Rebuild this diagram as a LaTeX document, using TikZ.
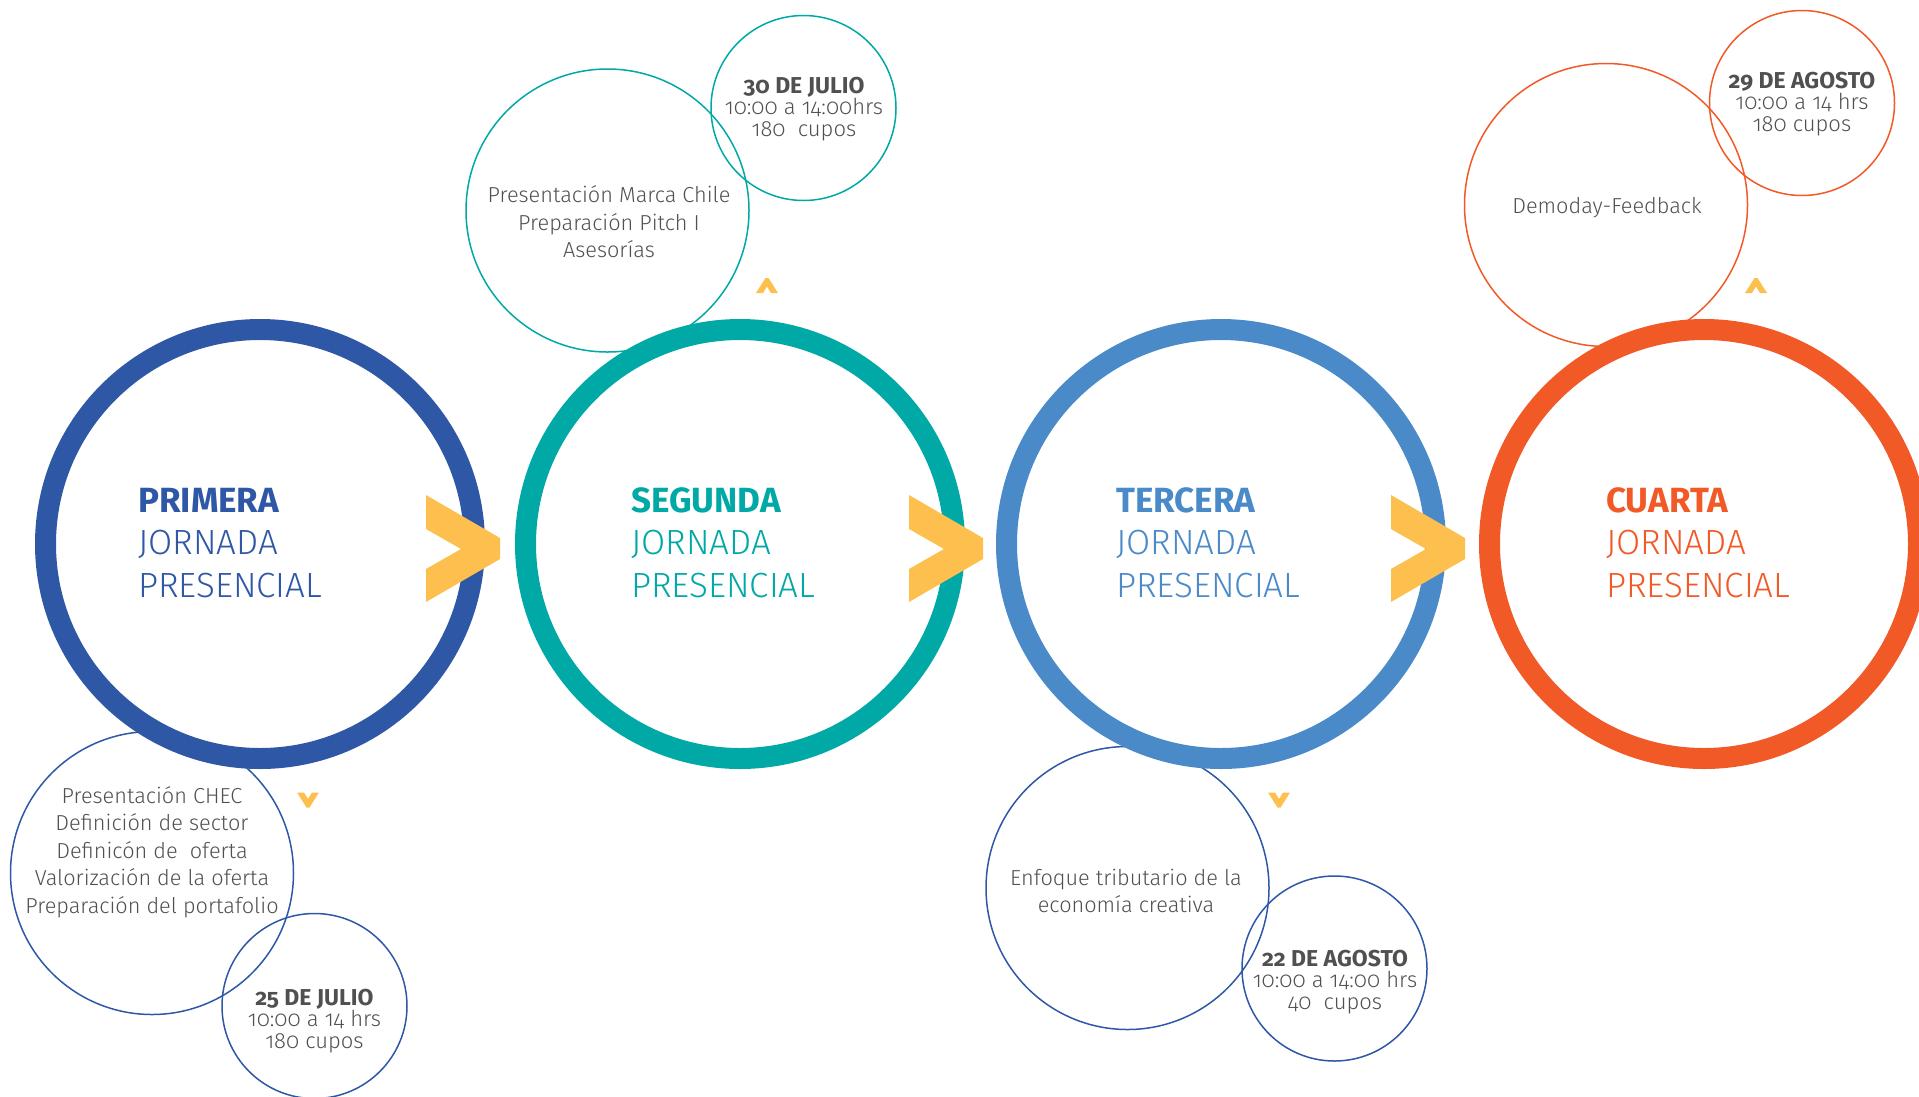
\documentclass[tikz,border=0pt]{standalone}
\usepackage{fontspec}
\setmainfont{Fira Sans}[UprightFont=* Light, BoldFont=* Bold, Numbers=OldStyle]

\definecolor{azul}{RGB}{46,87,166}
\definecolor{turquesa}{RGB}{0,168,166}
\definecolor{celeste}{RGB}{74,138,200}
\definecolor{naranja}{RGB}{241,90,39}
\definecolor{amarillo}{RGB}{253,192,78}
\definecolor{gristexto}{RGB}{80,80,80}

\newcommand{\fechabold}[1]{{\fontsize{23}{22}\selectfont\textbf{#1}}}

\tikzset{
  ring/.style={circle, draw=#1, fill=white, line width=21pt, minimum size=429pt, inner sep=0pt},
  burbuja/.style={circle, draw=#1, line width=1.5pt, minimum size=283pt, inner sep=0pt},
  burbujafecha/.style={circle, draw=#1, line width=1.5pt, minimum size=185pt, inner sep=0pt},
  desc/.style={align=center, text=gristexto, inner sep=0pt, font=\fontsize{21.7}{27.4}\selectfont},
  fecha/.style={align=center, text=gristexto, inner sep=0pt, font=\fontsize{22}{21.6}\selectfont},
  titulo/.style={anchor=base west, text=#1, inner sep=0pt, font=\fontsize{35}{42}\selectfont},
}

\begin{document}
\begin{tikzpicture}[x=1pt, y=-1pt]
    \useasboundingbox (0,0) rectangle (1919,1096);

    % burbujas con actividades y fechas
    \node[burbuja=azul] (act1) at (152,873) {};
    \node[burbujafecha=azul] (fec1) at (314.5,1006) {};
    \node[burbuja=turquesa] (act2) at (607.5,210.5) {};
    \node[burbujafecha=turquesa] (fec2) at (803.5,108) {};
    \node[burbuja=azul] (act3) at (1127.5,888) {};
    \node[burbujafecha=azul] (fec3) at (1334.5,968.5) {};
    \node[burbuja=naranja] (act4) at (1606,205) {};
    \node[burbujafecha=naranja] (fec4) at (1802,103) {};

    % anillos de las jornadas
    \node[ring=azul] (j1) at (260,544) {};
    \node[ring=turquesa] (j2) at (740,544) {};
    \node[ring=celeste] (j3) at (1221,544) {};
    \node[ring=naranja] (j4) at (1704,544) {};

    % flechas amarillas
    \foreach \cx in {426,909,1391} {
        \fill[amarillo] (\cx,495) -- ++(74,43) -- ++(0,21) -- ++(-74,43) -- ++(0,-33)
            -- ++(35,-20) -- ++(-35,-20) -- cycle;
    }
    \foreach \px/\py/\s in {308/800/1, 767/285.5/-1, 1279/800/1, 1756/285.5/-1} {
        \begin{scope}[shift={(\px,\py)}, yscale=\s]
            \fill[amarillo] (-11,-7.5) -- (-4,-7.5) -- (0,-1) -- (4,-7.5) -- (11,-7.5)
                -- (1.5,7.5) -- (-1.5,7.5) -- cycle;
        \end{scope}
    }

    % titulos
    \foreach \n/\tx/\col/\word in {1/138/azul/PRIMERA, 2/631/turquesa/SEGUNDA,
                                  3/1116/celeste/TERCERA, 4/1606/naranja/CUARTA} {
        \node[titulo=\col] (tit\n) at (\tx,512) {\textbf{\word}};
        \node[titulo=\col] (jor\n) at (\tx,554) {JORNADA};
        \node[titulo=\col] (pre\n) at (\tx,597) {PRESENCIAL};
    }

    % textos
    \node[desc] (txt1) at (152,852) {Presentación CHEC\\Definición de sector\\Definicón de\ \ oferta\\Valorización de la oferta\\Preparación del portafolio};
    \node[fecha] (dia1) at (314.5,1021) {\fechabold{25 DE JULIO}\\10:00 a 14 hrs\\180 cupos};
    \node[desc] (txt2) at (609,222) {Presentación Marca Chile\\Preparación Pitch I\\Asesorías};
    \node[fecha] (dia2) at (804,109) {\fechabold{30 DE JULIO}\\10:00 a 14:00hrs\\180\ \ cupos};
    \node[desc] (txt3) at (1126,891) {Enfoque tributario de la\\economía creativa};
    \node[fecha] (dia3) at (1335,982) {\fechabold{22 DE AGOSTO}\\10:00 a 14:00 hrs\\40\ \ cupos};
    \node[desc] (txt4) at (1607,208) {Demoday-Feedback};
    \node[fecha] (dia4) at (1802,104) {\fechabold{29 DE AGOSTO}\\10:00 a 14 hrs\\180 cupos};
\end{tikzpicture}
\end{document}
